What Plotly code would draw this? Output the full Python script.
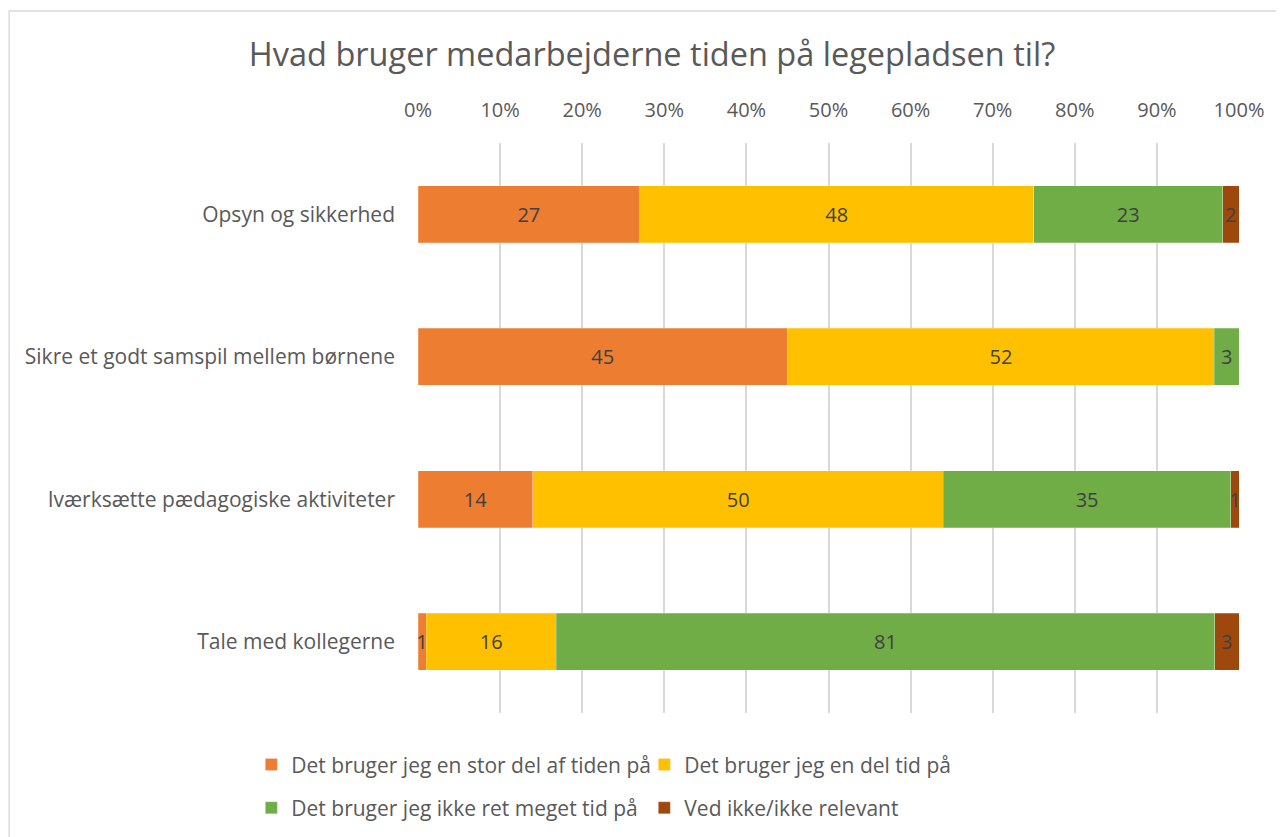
import plotly.graph_objects as go

categories = ["Opsyn og sikkerhed", "Sikre et godt samspil mellem børnene",
              "Iværksætte pædagogiske aktiviteter", "Tale med kollegerne"]
series_names = ["Det bruger jeg en stor del af tiden på", "Det bruger jeg en del tid på",
                "Det bruger jeg ikke ret meget tid på", "Ved ikke/ikke relevant"]
stor_del = [27, 45, 14, 1]
en_del = [48, 52, 50, 16]
ikke_meget = [23, 3, 35, 81]
ved_ikke = [2, 0, 1, 3]
tick_vals = [0, 10, 20, 30, 40, 50, 60, 70, 80, 90, 100]
tick_text = ["0%", "10%", "20%", "30%", "40%", "50%", "60%", "70%", "80%", "90%", "100%"]

colors = ["#ED7D31", "#FFC000", "#70AD47", "#9E480E"]
legends = ["legend", "legend", "legend2", "legend2"]
FONT = "Open Sans"

fig = go.Figure()
for name, vals, col, lg in zip(series_names, [stor_del, en_del, ikke_meget, ved_ikke], colors, legends):
    fig.add_trace(go.Bar(
        y=categories, x=vals, name=name, orientation="h", legend=lg,
        marker=dict(color=col, line=dict(color="rgba(255,255,255,0.4)", width=0.6)),
        text=[str(v) if v else "" for v in vals],
        textposition="inside", insidetextanchor="middle",
        textfont=dict(size=20, color="#404040", family=FONT),
        cliponaxis=False,
    ))

legend_common = dict(orientation="h", x=-0.203, xanchor="left", yanchor="top",
                     entrywidth=348, font=dict(size=21, color="#595959", family=FONT),
                     traceorder="normal", bgcolor="rgba(0,0,0,0)")

fig.update_layout(
    barmode="stack", barnorm="percent", bargap=0.6,
    width=1284, height=837,
    margin=dict(l=410, r=53, t=135, b=132),
    paper_bgcolor="white", plot_bgcolor="white",
    font=dict(family=FONT, color="#595959", size=20),
    uniformtext=dict(minsize=20, mode="show"),
    title=dict(text="Hvad bruger medarbejderne tiden på legepladsen til?",
               x=0.5016, xanchor="center", y=0.944, yanchor="middle",
               font=dict(size=32.5, color="#595959", family=FONT)),
    xaxis=dict(side="top", range=[0, 100], tickvals=tick_vals, ticktext=tick_text,
               showgrid=True, gridcolor="#D9D9D9", gridwidth=1.5, zeroline=False,
               showline=False, ticks="", ticklabelstandoff=21,
               tickfont=dict(size=20, color="#595959")),
    yaxis=dict(autorange="reversed", showgrid=False, zeroline=False, showline=False,
               ticks="", ticklabelstandoff=22, tickfont=dict(size=21, color="#595959")),
    legend=dict(legend_common, y=-0.055),
    legend2=dict(legend_common, y=-0.131),
    shapes=[dict(type="rect", xref="paper", yref="paper", x0=-0.498, x1=1.2,
                 y0=-0.4, y1=1.2316, line=dict(color="#D9D9D9", width=1.5),
                 fillcolor="rgba(0,0,0,0)", layer="below")],
)

fig.write_html("out.html")
